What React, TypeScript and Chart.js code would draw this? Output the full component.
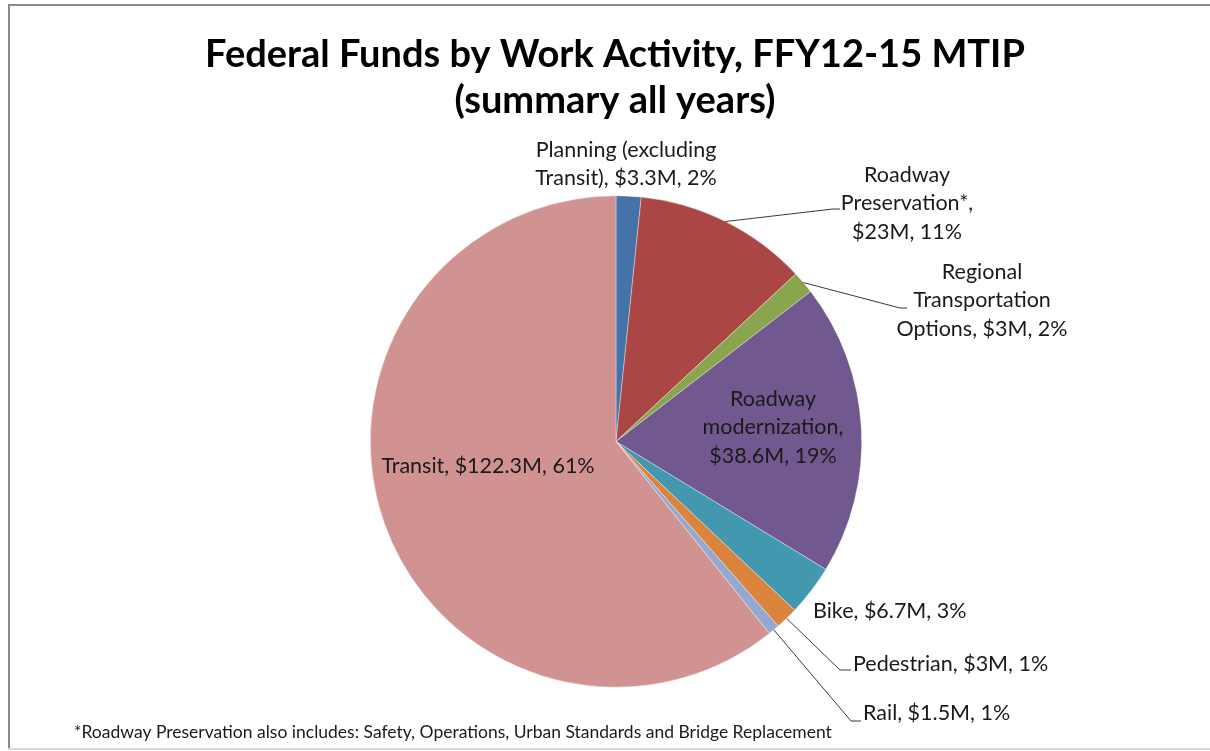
import React, { useEffect, useRef } from "react";
import { Chart, registerables } from "chart.js";

Chart.register(...registerables);

const titleLines = ["Federal Funds by Work Activity, FFY12-15 MTIP", "(summary all years)"];
const footnote = "*Roadway Preservation also includes: Safety, Operations, Urban Standards and Bridge Replacement";

const categories = [
  "Planning (excluding Transit)",
  "Roadway Preservation*",
  "Regional Transportation Options",
  "Roadway modernization",
  "Bike",
  "Pedestrian",
  "Rail",
  "Transit",
];
const valuesM = [3.3, 23, 3, 38.6, 6.7, 3, 1.5, 122.3];
const percentLabels = ["2%", "11%", "2%", "19%", "3%", "1%", "1%", "61%"];
const sliceColors = ["#4572A7", "#AA4643", "#89A54E", "#71588F", "#4198AF", "#DB843D", "#93A9CF", "#D19392"];
// words per line of each data label
const labelWordBreaks = [[2, 3], [1, 1, 2], [1, 1, 3], [1, 1, 2], [3], [3], [3], [3]];

// label placement (style): x, y of first line, align, leader elbow
type LabelPos = { x: number; y: number; align: CanvasTextAlign; elbow?: [number, number]; stub?: number };
const labelPlacement: LabelPos[] = [
  { x: 626, y: 150, align: "center" },
  { x: 907, y: 175, align: "center", elbow: [833, 209], stub: 840 },
  { x: 982, y: 272, align: "center", elbow: [900, 308], stub: 907 },
  { x: 773, y: 399, align: "center" },
  { x: 813, y: 611, align: "left" },
  { x: 853, y: 664, align: "left", elbow: [840, 670], stub: 851 },
  { x: 863, y: 713, align: "left", elbow: [851, 721], stub: 861 },
  { x: 488, y: 466, align: "center" },
];

const LABEL_FONT = "21.5px Lato";
const LINE_H = 28.5;

function buildLines(i: number): string[] {
  const text = `${categories[i]}, $${valuesM[i]}M, ${percentLabels[i]}`;
  const words = text.split(" ");
  const out: string[] = [];
  let k = 0;
  for (const n of labelWordBreaks[i]) {
    out.push(words.slice(k, k + n).join(" "));
    k += n;
  }
  if (k < words.length) out[out.length - 1] += " " + words.slice(k).join(" ");
  return out;
}

const labelPlugin = {
  id: "excelLabels",
  afterDraw(chart: any) {
    const ctx = chart.ctx as CanvasRenderingContext2D;
    const meta = chart.getDatasetMeta(0);
    ctx.save();
    // title
    ctx.fillStyle = "#000";
    ctx.textAlign = "center";
    ctx.textBaseline = "middle";
    ctx.font = "bold 38px Lato";
    ctx.fillText(titleLines[0], 615, 55);
    ctx.fillText(titleLines[1], 615, 101);
    // footnote
    ctx.font = "17.5px Lato";
    ctx.textAlign = "left";
    ctx.fillStyle = "#1a1a1a";
    ctx.fillText(footnote, 74, 732);

    meta.data.forEach((arc: any, i: number) => {
      const p = labelPlacement[i];
      const { x, y, startAngle, endAngle, outerRadius } = arc.getProps(
        ["x", "y", "startAngle", "endAngle", "outerRadius"],
        true
      );
      if (p.elbow) {
        const mid = (startAngle + endAngle) / 2;
        const sx = x + Math.cos(mid) * outerRadius;
        const sy = y + Math.sin(mid) * outerRadius;
        ctx.strokeStyle = "#3a3a3a";
        ctx.lineWidth = 1;
        ctx.beginPath();
        ctx.moveTo(sx, sy);
        ctx.lineTo(p.elbow[0], p.elbow[1]);
        ctx.lineTo(p.stub!, p.elbow[1]);
        ctx.stroke();
      }
      ctx.font = LABEL_FONT;
      ctx.fillStyle = "#1a1a1a";
      ctx.textAlign = p.align;
      ctx.textBaseline = "middle";
      buildLines(i).forEach((line, j) => {
        ctx.fillText(line, p.x, p.y + j * LINE_H);
      });
    });
    ctx.restore();
  },
};

export default function App() {
  const ref = useRef<HTMLCanvasElement | null>(null);
  useEffect(() => {
    if (!ref.current) return;
    const chart = new Chart(ref.current, {
      type: "pie",
      data: {
        labels: categories,
        datasets: [
          {
            data: valuesM,
            backgroundColor: sliceColors,
            borderWidth: 0.6,
            borderColor: "rgba(255,255,255,0.6)",
          },
        ],
      },
      options: {
        responsive: false,
        animation: false,
        layout: { padding: { top: 195, bottom: 63, left: 370, right: 348 } },
        plugins: {
          legend: { display: false },
          title: { display: false },
          tooltip: { enabled: false },
        },
      },
      plugins: [labelPlugin],
    });
    return () => chart.destroy();
  }, []);

  return (
    <div style={{ position: "fixed", left: 0, top: 0, width: 1210, height: 751, background: "#fff", overflow: "hidden" }}>
      <canvas ref={ref} width={1210} height={751} style={{ position: "absolute", left: 0, top: 0 }} />
      <div style={{ position: "absolute", left: 8, top: 4, width: 1202, height: 2, background: "#8a8a8a" }} />
      <div style={{ position: "absolute", left: 8, top: 4, width: 2, height: 746, background: "#8a8a8a" }} />
      <div style={{ position: "absolute", left: 8, top: 748, width: 1202, height: 2, background: "#d9d9d9" }} />
    </div>
  );
}
